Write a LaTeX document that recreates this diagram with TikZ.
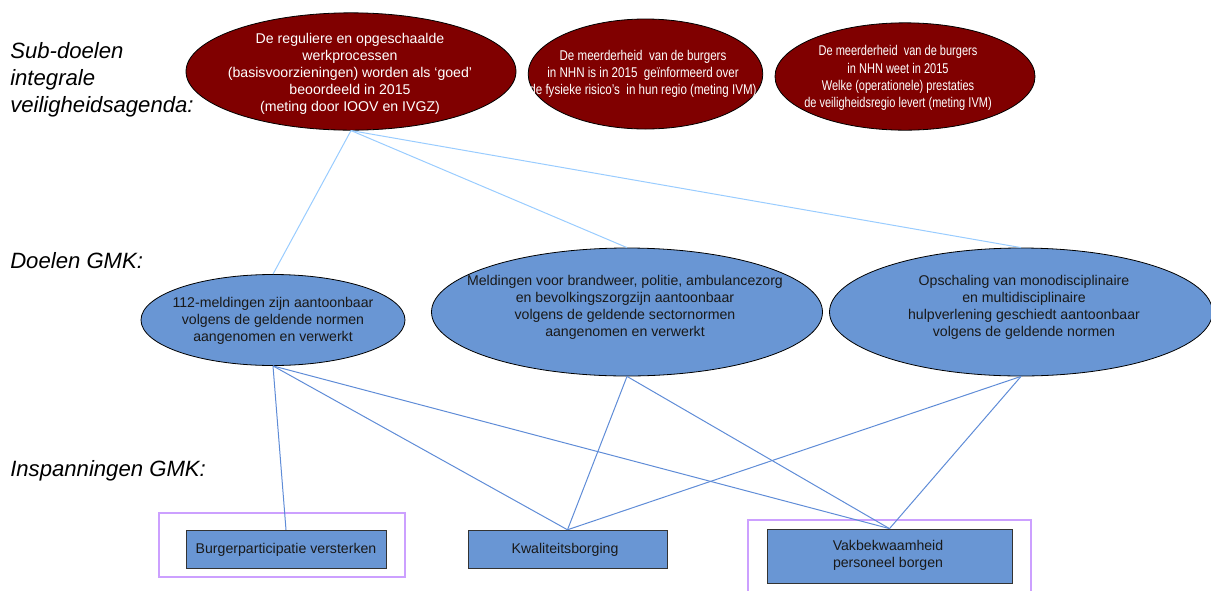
\documentclass[tikz,border=0pt]{standalone}
\usepackage{fontspec}
\setmainfont{Liberation Sans}
\newfontfamily\narrowa[FakeStretch=0.82]{Liberation Sans}
\newfontfamily\narrowb[FakeStretch=0.78]{Liberation Sans}
\usetikzlibrary{shapes.geometric}
\definecolor{darkred}{RGB}{128,0,0}
\definecolor{goalblue}{RGB}{105,150,212}
\definecolor{toplink}{RGB}{153,204,255}
\definecolor{lowlink}{RGB}{95,140,215}
\definecolor{frame}{RGB}{204,160,255}
\tikzset{
  subgoal/.style={ellipse, draw=black, line width=0.6pt, fill=darkred, inner sep=0pt},
  goal/.style={ellipse, draw=black, line width=0.6pt, fill=goalblue, inner sep=0pt},
  effort/.style={rectangle, draw=black!80, line width=0.6pt, fill=goalblue, inner sep=0pt},
  wtext/.style={align=center, text=white, font=\fontsize{10.6}{12.75}\selectfont, inner sep=0pt},
  btext/.style={align=center, text=black!90, font=\fontsize{10.6}{12.75}\selectfont, inner sep=0pt},
  sidelabel/.style={align=left, font=\fontsize{16.6}{19.9}\selectfont\itshape, inner sep=0pt, anchor=base west},
  uplink/.style={draw=toplink, line width=0.75pt},
  downlink/.style={draw=lowlink, line width=0.75pt},
  framebox/.style={draw=frame, line width=1.8pt}
}
\begin{document}
\begin{tikzpicture}[x=0.75pt,y=-0.75pt]
\useasboundingbox (0,0) rectangle (1211,590);
% side labels
\node[sidelabel] (lsub) at (10,112) {Sub-doelen\\integrale\\veiligheidsagenda:};
\node[sidelabel] (ldoel) at (10,268) {Doelen GMK:};
\node[sidelabel] (linsp) at (10,476) {Inspanningen GMK:};
% purple frames
\draw[framebox] (159,513) rectangle (405,577);
\draw[framebox] (748,592) -- (748,520) -- (1031,520) -- (1031,592);
% sub goals
\node[subgoal, minimum width=247.5pt, minimum height=88pt] (e1) at (351,71.5) {};
\node[wtext] (t1) at (350,73.5) {De reguliere en opgeschaalde\\werkprocessen\\(basisvoorzieningen) worden als ‘goed’\\beoordeeld in 2015\\(meting door IOOV en IVGZ)};
\node[subgoal, minimum width=176pt, minimum height=82.5pt] (e2) at (645.5,74) {};
\node[wtext, font=\fontsize{10.6}{12.75}\selectfont\narrowa] (t2) at (643,74) {De meerderheid\ \ van de burgers\\in NHN is in 2015\ \ geïnformeerd over\\de fysieke risico’s\ \ in hun regio (meting IVM)};
\node[subgoal, minimum width=195pt, minimum height=80.5pt] (e3) at (905,76.5) {};
\node[wtext, font=\fontsize{10.6}{12.9}\selectfont\narrowb] (t3) at (898,78) {De meerderheid\ \ van de burgers\\in NHN weet in 2015\\Welke (operationele) prestaties\\de veiligheidsregio levert (meting IVM)};
% goals
\node[goal, minimum width=198pt, minimum height=68.25pt] (m1) at (273,320) {};
\node[btext] (u1) at (273,320.5) {112-meldingen zijn aantoonbaar\\volgens de geldende normen\\aangenomen en verwerkt};
\node[goal, minimum width=293.25pt, minimum height=96pt] (m2) at (627,312) {};
\node[btext] (u2) at (625,307.5) {Meldingen voor brandweer, politie, ambulancezorg\\en bevolkingszorgzijn aantoonbaar\\volgens de geldende sectornormen\\aangenomen en verwerkt};
\node[goal, minimum width=287.25pt, minimum height=96pt] (m3) at (1021,312) {};
\node[btext] (u3) at (1024,307.5) {Opschaling van monodisciplinaire\\en multidisciplinaire\\hulpverlening geschiedt aantoonbaar\\volgens de geldende normen};
% efforts
\node[effort, minimum width=150pt, minimum height=29pt] (b1) at (286,549.5) {};
\node[btext] (v1) at (286,549.5) {Burgerparticipatie versterken};
\node[effort, minimum width=149.25pt, minimum height=29pt] (b2) at (567.5,549.5) {};
\node[btext] (v2) at (565,549.5) {Kwaliteitsborging};
\node[effort, minimum width=183.75pt, minimum height=40.5pt] (b3) at (889.5,556) {};
\node[btext] (v3) at (888,555) {Vakbekwaamheid\\personeel borgen};
% links
\draw[uplink] (e1.south) -- (m1.north);
\draw[uplink] (e1.south) -- (m2.north);
\draw[uplink] (e1.south) -- (m3.north);
\draw[downlink] (m1.south) -- (b1.north);
\draw[downlink] (m1.south) -- (b2.north);
\draw[downlink] (m1.south) -- (b3.north);
\draw[downlink] (m2.south) -- (b2.north);
\draw[downlink] (m2.south) -- (b3.north);
\draw[downlink] (m3.south) -- (b2.north);
\draw[downlink] (m3.south) -- (b3.north);
\end{tikzpicture}
\end{document}
